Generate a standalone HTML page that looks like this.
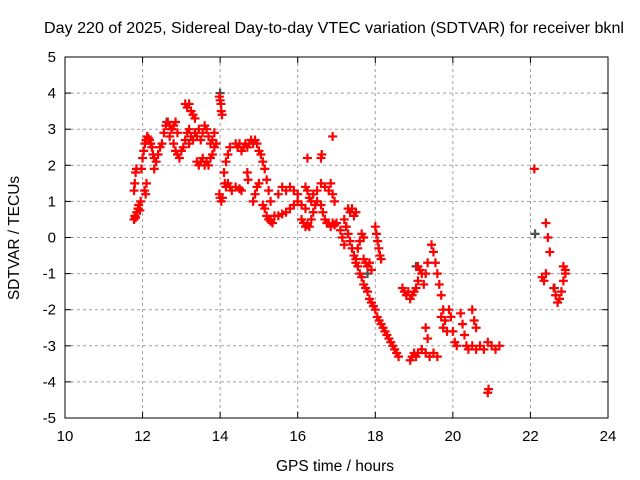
<!DOCTYPE html>
<html><head><meta charset="utf-8"><style>
body{margin:0;background:#fff;}
svg{display:block;font-family:"Liberation Sans",sans-serif;}
</style></head><body>
<svg id="chart" width="640" height="480" viewBox="0 0 640 480">
<text x="334" y="33" font-size="16" text-anchor="middle" textLength="580" lengthAdjust="spacingAndGlyphs">Day 220 of 2025, Sidereal Day-to-day VTEC variation (SDTVAR) for receiver bknl</text>
<g id="grid"></g>
<g id="axes"></g>
<g id="marks"></g>
<text x="335" y="471" font-size="15.5" text-anchor="middle">GPS time / hours</text>
<text transform="translate(19,238) rotate(-90)" font-size="15.5" text-anchor="middle">SDTVAR / TECUs</text>
</svg>
<script>
const xTicks = [10,12,14,16,18,20,22,24];
const yTicks = [-5,-4,-3,-2,-1,0,1,2,3,4,5];
const times = [
11.78,11.80,11.82,11.85,11.88,11.90,11.93,11.95,
11.78,11.80,11.82,11.84,
11.97,12.00,12.03,12.06,12.09,12.12,12.15,12.18,12.21,12.24,12.27,12.30,
12.05,12.08,12.10,
12.30,12.35,12.40,12.45,12.50,12.55,12.60,12.65,12.70,12.75,
12.80,12.85,12.90,12.95,13.00,13.05,13.10,13.15,13.20,
12.70,12.75,12.80,12.85,12.90,
13.10,13.15,13.20,13.25,13.30,13.35,
13.20,13.25,13.30,13.35,13.40,13.45,13.50,13.55,13.60,13.65,13.70,13.75,13.80,
13.40,13.45,13.50,13.55,13.60,13.65,13.70,13.75,13.80,13.85,
13.85,13.90,
13.98,14.00,14.02,14.03,14.05,
13.98,14.00,14.03,14.06,
14.10,14.12,14.15,14.20,14.25,14.30,
14.15,14.20,14.25,
14.40,14.45,14.50,14.55,14.60,14.65,14.70,14.75,14.80,14.85,14.90,14.95,
14.40,14.50,14.55,
14.70,14.72,
14.85,14.90,14.95,15.00,
15.00,15.05,15.10,15.15,15.20,15.25,15.30,
15.10,15.15,15.20,15.25,15.30,15.35,
15.40,15.50,15.60,15.70,15.80,15.90,16.00,16.10,16.20,
15.50,15.60,15.70,15.80,15.90,16.00,
16.10,16.15,16.20,16.25,16.30,16.35,16.40,16.45,16.50,
16.20,16.25,16.30,16.35,16.40,16.50,16.60,16.70,
16.25,16.60,16.62,
16.60,16.65,16.70,16.75,16.80,16.85,16.90,16.95,17.00,
16.80,16.85,16.90,16.95,
16.90,
17.10,17.15,17.20,17.25,17.30,17.35,17.40,17.45,17.50,
17.20,17.25,17.30,17.35,17.40,17.45,17.50,17.55,17.60,17.65,17.70,
17.50,17.55,17.60,17.65,17.70,17.75,17.80,17.85,17.90,17.95,18.00,18.05,18.10,18.15,18.20,18.25,18.30,18.35,18.40,18.45,18.50,18.55,18.60,
17.70,17.75,17.80,17.85,17.90,
18.00,18.03,18.06,18.09,18.12,18.15,
18.70,18.75,18.80,18.85,18.90,18.95,19.00,19.05,19.10,
19.10,19.15,19.20,19.25,19.30,19.35,
18.90,18.95,19.00,19.05,19.10,19.20,19.30,19.40,19.50,19.60,
19.30,19.35,
19.45,19.50,19.55,19.60,19.65,19.70,19.75,
19.70,19.75,19.80,19.85,
19.90,19.95,20.00,20.05,20.10,
20.20,20.25,20.30,20.35,20.40,
20.50,20.55,20.60,
20.50,20.60,20.70,20.80,20.90,21.00,21.10,21.20,
20.90,20.92,
22.10,
22.40,22.45,22.50,
22.30,22.35,22.40,
22.60,22.65,22.70,22.75,22.80,22.85,22.90,
22.85,22.90
];
const values = [
0.5,0.6,0.55,0.7,0.8,0.9,0.75,1.0,
1.3,1.5,1.8,1.9,
1.9,2.2,2.4,2.6,2.7,2.8,2.75,2.7,2.6,2.5,2.3,2.2,
1.3,1.2,1.5,
1.9,2.1,2.3,2.5,2.6,2.9,3.1,3.2,3.1,3.0,
2.6,2.4,2.3,2.2,2.4,2.5,2.7,2.9,3.0,
2.8,3.0,3.1,3.2,2.9,
3.7,3.6,3.7,3.5,3.4,3.3,
2.6,2.8,2.7,2.9,2.8,3.0,2.7,2.9,3.1,3.0,2.8,2.6,2.7,
2.1,2.0,2.1,2.2,2.0,2.1,2.0,2.2,2.3,2.5,
2.9,2.6,
3.9,3.8,3.7,3.5,3.4,
1.2,1.1,1.0,1.1,
1.8,1.5,1.4,1.5,1.4,1.3,
2.1,2.3,2.5,
2.6,2.5,2.6,2.4,2.5,2.6,2.5,2.6,2.7,2.6,2.7,2.6,
1.4,1.35,1.3,
1.8,1.6,
1.0,1.2,1.4,1.5,
2.4,2.3,2.1,1.9,1.6,1.3,1.0,
0.9,0.8,0.6,0.5,0.45,0.4,
0.6,0.6,0.65,0.7,0.8,0.9,1.0,0.9,0.8,
1.2,1.4,1.3,1.4,1.3,1.2,
0.5,0.4,0.3,0.35,0.3,0.5,0.7,0.9,1.0,
1.4,1.3,1.1,1.0,1.2,1.3,1.5,1.4,
2.2,2.2,2.3,
0.9,0.7,0.5,0.4,0.4,0.3,0.4,0.35,0.4,
1.3,1.5,1.2,1.0,
2.8,
0.2,0.0,-0.2,0.3,0.8,0.7,0.8,0.6,0.7,
0.5,0.3,0.1,-0.1,-0.3,-0.5,-0.6,-0.3,-0.1,0.1,0.0,
-0.7,-0.8,-1.0,-1.1,-1.3,-1.4,-1.5,-1.7,-1.8,-1.9,-2.0,-2.2,-2.3,-2.4,-2.5,-2.6,-2.7,-2.8,-2.9,-3.0,-3.1,-3.2,-3.3,
-0.6,-0.7,-0.8,-0.7,-0.9,
0.3,0.1,-0.1,-0.3,-0.5,-0.6,
-1.4,-1.5,-1.6,-1.5,-1.7,-1.6,-1.5,-1.4,-1.2,
-0.8,-0.9,-1.0,-1.3,-1.0,-0.7,
-3.4,-3.3,-3.2,-3.3,-3.2,-3.1,-3.2,-3.3,-3.2,-3.3,
-2.5,-2.8,
-0.2,-0.4,-0.7,-1.0,-1.3,-1.6,-2.0,
-2.2,-2.5,-2.3,-2.6,
-2.0,-2.2,-2.6,-2.9,-3.0,
-2.1,-2.4,-2.7,-3.0,-3.1,
-2.0,-2.3,-2.5,
-3.0,-3.1,-3.0,-3.1,-2.9,-3.0,-3.1,-3.0,
-4.3,-4.2,
1.9,
0.4,0.0,-0.4,
-1.1,-1.2,-1.0,
-1.4,-1.6,-1.8,-1.7,-1.5,-1.2,-0.9,
-0.8,-1.0
];
const greyTimes = [22.12,22.62,14.0,12.62,19.05,17.8];
const greyValues = [0.1,-1.4,4.0,3.2,-0.8,-1.0];

const L=65,R=608,T=57,B=418;
const xMin=10,xMax=24,yMin=-5,yMax=5;
function xs(t){return L+(t-xMin)/(xMax-xMin)*(R-L);}
function ys(v){return B-(v-yMin)/(yMax-yMin)*(B-T);}
const NS="http://www.w3.org/2000/svg";
function mk(tag,attrs,parent){const e=document.createElementNS(NS,tag);for(const k in attrs)e.setAttribute(k,attrs[k]);parent.appendChild(e);return e;}
const grid=document.getElementById('grid'),axes=document.getElementById('axes'),marks=document.getElementById('marks');
xTicks.forEach(t=>{
  const x=xs(t);
  if(t>xMin&&t<xMax){const g=mk('line',{x1:x,y1:T,x2:x,y2:B,stroke:'#a0a0a0','stroke-dasharray':'3,3'},grid);
  
  }
  mk('line',{x1:x,y1:B,x2:x,y2:B-6,stroke:'#000'},axes);
  mk('line',{x1:x,y1:T,x2:x,y2:T+6,stroke:'#000'},axes);
  const lb=mk('text',{x:x,y:B+23,'font-size':15,'text-anchor':'middle'},axes);
  lb.textContent=t;
  
  
});
yTicks.forEach(v=>{
  const y=ys(v);
  if(v>yMin&&v<yMax){const g=mk('line',{x1:L,y1:y,x2:R,y2:y,stroke:'#a0a0a0','stroke-dasharray':'3,3'},grid);
  
  }
  mk('line',{x1:L,y1:y,x2:L+6,y2:y,stroke:'#000'},axes);
  mk('line',{x1:R,y1:y,x2:R-6,y2:y,stroke:'#000'},axes);
  const lb=mk('text',{x:L-9,y:y+5,'font-size':15,'text-anchor':'end'},axes);
  lb.textContent=v;
  
  
});
const fr=mk('rect',{x:L,y:T,width:R-L,height:B-T,fill:'none',stroke:'#000'},axes);


function plus(t,v,col){
  const x=xs(t),y=ys(v);
  const p=mk('path',{d:`M${x-4.5},${y}H${x+4.5}M${x},${y-4.5}V${y+4.5}`,stroke:col,'stroke-width':2.2,fill:'none'},marks);
  
  
}
greyTimes.forEach((t,i)=>plus(t,greyValues[i],'#505050'));
times.forEach((t,i)=>plus(t,values[i],'#ff0000'));
</script>
</body></html>
